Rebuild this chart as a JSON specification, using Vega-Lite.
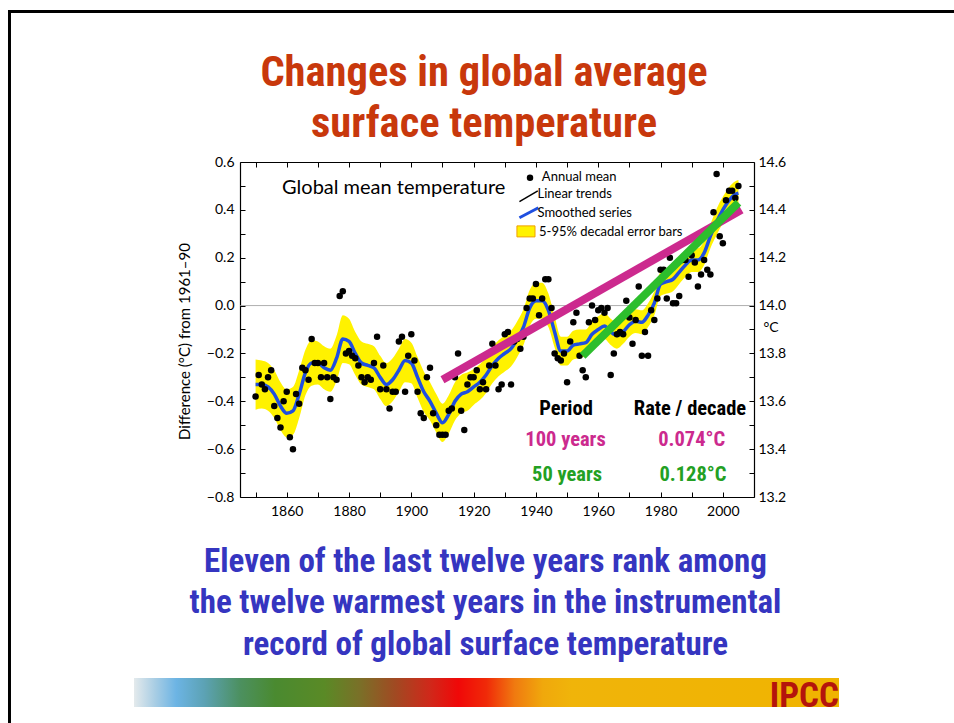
{
  "$schema": "https://vega.github.io/schema/vega-lite/v6.json",
  "background": "white",
  "padding": {"left": 7, "top": 9, "right": 0, "bottom": 0},
  "config": {
    "font": "Lato",
    "view": {"stroke": null},
    "axis": {
      "labelFont": "Lato", "labelFontSize": 14, "labelColor": "black",
      "titleFont": "Lato", "titleColor": "black", "titleFontWeight": "normal",
      "domainColor": "black", "domainWidth": 1.2, "tickColor": "black", "tickWidth": 1, "grid": false
    }
  },
  "datasets": {
    "annual": [
      {"year":1850,"anomaly":-0.38},{"year":1851,"anomaly":-0.29},{"year":1852,"anomaly":-0.33},{"year":1853,"anomaly":-0.35},{"year":1854,"anomaly":-0.30},
      {"year":1855,"anomaly":-0.27},{"year":1856,"anomaly":-0.42},{"year":1857,"anomaly":-0.47},{"year":1858,"anomaly":-0.51},{"year":1859,"anomaly":-0.40},
      {"year":1860,"anomaly":-0.36},{"year":1861,"anomaly":-0.55},{"year":1862,"anomaly":-0.60},{"year":1863,"anomaly":-0.37},{"year":1864,"anomaly":-0.41},
      {"year":1865,"anomaly":-0.26},{"year":1866,"anomaly":-0.27},{"year":1867,"anomaly":-0.31},{"year":1868,"anomaly":-0.14},{"year":1869,"anomaly":-0.24},
      {"year":1870,"anomaly":-0.24},{"year":1871,"anomaly":-0.30},{"year":1872,"anomaly":-0.24},{"year":1873,"anomaly":-0.30},{"year":1874,"anomaly":-0.39},
      {"year":1875,"anomaly":-0.30},{"year":1876,"anomaly":-0.31},{"year":1877,"anomaly":0.04},{"year":1878,"anomaly":0.06},{"year":1879,"anomaly":-0.20},
      {"year":1880,"anomaly":-0.19},{"year":1881,"anomaly":-0.21},{"year":1882,"anomaly":-0.22},{"year":1883,"anomaly":-0.25},{"year":1884,"anomaly":-0.30},
      {"year":1885,"anomaly":-0.32},{"year":1886,"anomaly":-0.30},{"year":1887,"anomaly":-0.31},{"year":1888,"anomaly":-0.24},{"year":1889,"anomaly":-0.13},
      {"year":1890,"anomaly":-0.35},{"year":1891,"anomaly":-0.25},{"year":1892,"anomaly":-0.35},{"year":1893,"anomaly":-0.43},{"year":1894,"anomaly":-0.36},
      {"year":1895,"anomaly":-0.36},{"year":1896,"anomaly":-0.15},{"year":1897,"anomaly":-0.13},{"year":1898,"anomaly":-0.36},{"year":1899,"anomaly":-0.21},
      {"year":1900,"anomaly":-0.12},{"year":1901,"anomaly":-0.23},{"year":1902,"anomaly":-0.36},{"year":1903,"anomaly":-0.45},{"year":1904,"anomaly":-0.47},
      {"year":1905,"anomaly":-0.30},{"year":1906,"anomaly":-0.26},{"year":1907,"anomaly":-0.45},{"year":1908,"anomaly":-0.50},{"year":1909,"anomaly":-0.54},
      {"year":1910,"anomaly":-0.54},{"year":1911,"anomaly":-0.54},{"year":1912,"anomaly":-0.44},{"year":1913,"anomaly":-0.43},{"year":1914,"anomaly":-0.30},
      {"year":1915,"anomaly":-0.20},{"year":1916,"anomaly":-0.44},{"year":1917,"anomaly":-0.52},{"year":1918,"anomaly":-0.33},{"year":1919,"anomaly":-0.30},
      {"year":1920,"anomaly":-0.30},{"year":1921,"anomaly":-0.27},{"year":1922,"anomaly":-0.35},{"year":1923,"anomaly":-0.32},{"year":1924,"anomaly":-0.35},
      {"year":1925,"anomaly":-0.25},{"year":1926,"anomaly":-0.16},{"year":1927,"anomaly":-0.25},{"year":1928,"anomaly":-0.35},{"year":1929,"anomaly":-0.33},
      {"year":1930,"anomaly":-0.12},{"year":1931,"anomaly":-0.11},{"year":1932,"anomaly":-0.33},{"year":1933,"anomaly":-0.15},{"year":1934,"anomaly":-0.14},
      {"year":1935,"anomaly":-0.18},{"year":1936,"anomaly":-0.13},{"year":1937,"anomaly":-0.01},{"year":1938,"anomaly":0.03},{"year":1939,"anomaly":0.03},
      {"year":1940,"anomaly":0.09},{"year":1941,"anomaly":-0.04},{"year":1942,"anomaly":0.03},{"year":1943,"anomaly":0.11},{"year":1944,"anomaly":0.11},
      {"year":1945,"anomaly":-0.01},{"year":1946,"anomaly":-0.20},{"year":1947,"anomaly":-0.22},{"year":1948,"anomaly":-0.23},{"year":1949,"anomaly":-0.20},
      {"year":1950,"anomaly":-0.32},{"year":1951,"anomaly":-0.15},{"year":1952,"anomaly":-0.07},{"year":1953,"anomaly":-0.03},{"year":1954,"anomaly":-0.21},
      {"year":1955,"anomaly":-0.27},{"year":1956,"anomaly":-0.30},{"year":1957,"anomaly":-0.07},{"year":1958,"anomaly":0.00},{"year":1959,"anomaly":-0.06},
      {"year":1960,"anomaly":-0.02},{"year":1961,"anomaly":-0.01},{"year":1962,"anomaly":-0.03},{"year":1963,"anomaly":-0.01},{"year":1964,"anomaly":-0.29},
      {"year":1965,"anomaly":-0.20},{"year":1966,"anomaly":-0.12},{"year":1967,"anomaly":-0.11},{"year":1968,"anomaly":-0.12},{"year":1969,"anomaly":0.02},
      {"year":1970,"anomaly":-0.05},{"year":1971,"anomaly":-0.16},{"year":1972,"anomaly":-0.06},{"year":1973,"anomaly":0.08},{"year":1974,"anomaly":-0.21},
      {"year":1975,"anomaly":-0.11},{"year":1976,"anomaly":-0.21},{"year":1977,"anomaly":-0.02},{"year":1978,"anomaly":-0.06},{"year":1979,"anomaly":0.03},
      {"year":1980,"anomaly":0.15},{"year":1981,"anomaly":0.15},{"year":1982,"anomaly":0.03},{"year":1983,"anomaly":0.20},{"year":1984,"anomaly":0.01},
      {"year":1985,"anomaly":0.01},{"year":1986,"anomaly":0.04},{"year":1987,"anomaly":0.19},{"year":1988,"anomaly":0.19},{"year":1989,"anomaly":0.12},
      {"year":1990,"anomaly":0.21},{"year":1991,"anomaly":0.18},{"year":1992,"anomaly":0.08},{"year":1993,"anomaly":0.13},{"year":1994,"anomaly":0.19},
      {"year":1995,"anomaly":0.15},{"year":1996,"anomaly":0.13},{"year":1997,"anomaly":0.39},{"year":1998,"anomaly":0.55},{"year":1999,"anomaly":0.29},
      {"year":2000,"anomaly":0.26},{"year":2001,"anomaly":0.44},{"year":2002,"anomaly":0.48},{"year":2003,"anomaly":0.48},{"year":2004,"anomaly":0.45},
      {"year":2005,"anomaly":0.50}
    ],
    "smooth": [
      {"year":1850,"smooth":-0.33,"lower":-0.435,"upper":-0.225},{"year":1852,"smooth":-0.33,"lower":-0.43,"upper":-0.23},
      {"year":1854,"smooth":-0.34,"lower":-0.44,"upper":-0.24},{"year":1856,"smooth":-0.37,"lower":-0.47,"upper":-0.27},
      {"year":1858,"smooth":-0.42,"lower":-0.52,"upper":-0.32},{"year":1860,"smooth":-0.45,"lower":-0.55,"upper":-0.35},
      {"year":1862,"smooth":-0.44,"lower":-0.54,"upper":-0.34},{"year":1864,"smooth":-0.37,"lower":-0.47,"upper":-0.27},
      {"year":1866,"smooth":-0.28,"lower":-0.375,"upper":-0.185},{"year":1868,"smooth":-0.24,"lower":-0.335,"upper":-0.145},
      {"year":1870,"smooth":-0.24,"lower":-0.33,"upper":-0.15},{"year":1872,"smooth":-0.26,"lower":-0.35,"upper":-0.17},
      {"year":1874,"smooth":-0.27,"lower":-0.36,"upper":-0.18},{"year":1876,"smooth":-0.22,"lower":-0.315,"upper":-0.125},
      {"year":1878,"smooth":-0.14,"lower":-0.24,"upper":-0.04},{"year":1880,"smooth":-0.15,"lower":-0.245,"upper":-0.055},
      {"year":1882,"smooth":-0.20,"lower":-0.29,"upper":-0.11},{"year":1884,"smooth":-0.24,"lower":-0.33,"upper":-0.15},
      {"year":1886,"smooth":-0.25,"lower":-0.34,"upper":-0.16},{"year":1888,"smooth":-0.26,"lower":-0.35,"upper":-0.17},
      {"year":1890,"smooth":-0.30,"lower":-0.39,"upper":-0.21},{"year":1892,"smooth":-0.33,"lower":-0.42,"upper":-0.24},
      {"year":1894,"smooth":-0.31,"lower":-0.40,"upper":-0.22},{"year":1896,"smooth":-0.27,"lower":-0.36,"upper":-0.18},
      {"year":1898,"smooth":-0.23,"lower":-0.32,"upper":-0.14},{"year":1900,"smooth":-0.24,"lower":-0.325,"upper":-0.155},
      {"year":1902,"smooth":-0.30,"lower":-0.385,"upper":-0.215},{"year":1904,"smooth":-0.36,"lower":-0.445,"upper":-0.275},
      {"year":1906,"smooth":-0.40,"lower":-0.48,"upper":-0.32},{"year":1908,"smooth":-0.45,"lower":-0.53,"upper":-0.37},
      {"year":1910,"smooth":-0.49,"lower":-0.57,"upper":-0.41},{"year":1912,"smooth":-0.455,"lower":-0.535,"upper":-0.375},
      {"year":1914,"smooth":-0.40,"lower":-0.48,"upper":-0.32},{"year":1916,"smooth":-0.37,"lower":-0.45,"upper":-0.29},
      {"year":1918,"smooth":-0.36,"lower":-0.44,"upper":-0.28},{"year":1920,"smooth":-0.34,"lower":-0.415,"upper":-0.265},
      {"year":1922,"smooth":-0.32,"lower":-0.395,"upper":-0.245},{"year":1924,"smooth":-0.29,"lower":-0.365,"upper":-0.215},
      {"year":1926,"smooth":-0.25,"lower":-0.325,"upper":-0.175},{"year":1928,"smooth":-0.22,"lower":-0.295,"upper":-0.145},
      {"year":1930,"smooth":-0.20,"lower":-0.275,"upper":-0.125},{"year":1932,"smooth":-0.18,"lower":-0.255,"upper":-0.105},
      {"year":1934,"smooth":-0.14,"lower":-0.215,"upper":-0.065},{"year":1936,"smooth":-0.09,"lower":-0.165,"upper":-0.015},
      {"year":1938,"smooth":-0.01,"lower":-0.085,"upper":0.065},{"year":1940,"smooth":0.02,"lower":-0.055,"upper":0.095},
      {"year":1942,"smooth":0.02,"lower":-0.055,"upper":0.095},{"year":1944,"smooth":-0.02,"lower":-0.09,"upper":0.05},
      {"year":1946,"smooth":-0.11,"lower":-0.175,"upper":-0.045},{"year":1948,"smooth":-0.19,"lower":-0.25,"upper":-0.13},
      {"year":1950,"smooth":-0.19,"lower":-0.25,"upper":-0.13},{"year":1952,"smooth":-0.165,"lower":-0.225,"upper":-0.105},
      {"year":1954,"smooth":-0.16,"lower":-0.22,"upper":-0.10},{"year":1956,"smooth":-0.155,"lower":-0.21,"upper":-0.10},
      {"year":1958,"smooth":-0.12,"lower":-0.175,"upper":-0.065},{"year":1960,"smooth":-0.10,"lower":-0.155,"upper":-0.045},
      {"year":1962,"smooth":-0.085,"lower":-0.14,"upper":-0.03},{"year":1964,"smooth":-0.11,"lower":-0.165,"upper":-0.055},
      {"year":1966,"smooth":-0.125,"lower":-0.18,"upper":-0.07},{"year":1968,"smooth":-0.11,"lower":-0.16,"upper":-0.06},
      {"year":1970,"smooth":-0.08,"lower":-0.13,"upper":-0.03},{"year":1972,"smooth":-0.065,"lower":-0.115,"upper":-0.015},
      {"year":1974,"smooth":-0.07,"lower":-0.12,"upper":-0.02},{"year":1976,"smooth":-0.04,"lower":-0.09,"upper":0.01},
      {"year":1978,"smooth":0.01,"lower":-0.04,"upper":0.06},{"year":1980,"smooth":0.09,"lower":0.04,"upper":0.14},
      {"year":1982,"smooth":0.10,"lower":0.05,"upper":0.15},{"year":1984,"smooth":0.11,"lower":0.06,"upper":0.16},
      {"year":1986,"smooth":0.14,"lower":0.09,"upper":0.19},{"year":1988,"smooth":0.17,"lower":0.12,"upper":0.22},
      {"year":1990,"smooth":0.19,"lower":0.14,"upper":0.24},{"year":1992,"smooth":0.19,"lower":0.14,"upper":0.24},
      {"year":1994,"smooth":0.22,"lower":0.17,"upper":0.27},{"year":1996,"smooth":0.29,"lower":0.24,"upper":0.34},
      {"year":1998,"smooth":0.35,"lower":0.295,"upper":0.405},{"year":2000,"smooth":0.40,"lower":0.345,"upper":0.455},
      {"year":2002,"smooth":0.44,"lower":0.385,"upper":0.495},{"year":2004,"smooth":0.465,"lower":0.41,"upper":0.52},
      {"year":2005,"smooth":0.47,"lower":0.415,"upper":0.525}
    ],
    "trends": [
      {"period":"100 years","year":1910,"anomaly":-0.31},
      {"period":"100 years","year":2006,"anomaly":0.40},
      {"period":"50 years","year":1955,"anomaly":-0.21},
      {"period":"50 years","year":2005,"anomaly":0.43}
    ]
  },
  "vconcat": [
    {
      "width": 514,
      "height": 335,
      "title": {
        "text": ["Changes in global average", "surface temperature"],
        "font": "Roboto Condensed",
        "fontSize": 42.5, "fontWeight": "bold", "color": "#C8380C", "lineHeight": 51,
        "anchor": "middle", "frame": "group", "dx": -13, "offset": -24, "baseline": "alphabetic"
      },
      "layer": [
        {
          "data": {"values": [{}]},
          "mark": {"type": "rule", "color": "#9a9a9a", "strokeWidth": 0.8},
          "encoding": {"y": {"datum": 0, "type": "quantitative", "axis": null}}
        },
        {
          "data": {"name": "smooth"},
          "mark": {"type": "area", "color": "#FFF200", "interpolate": "monotone"},
          "encoding": {
            "x": {
              "field": "year", "type": "quantitative",
              "scale": {"domain": [1845, 2010], "nice": false, "zero": false},
              "axis": {
                "orient": "bottom",
                "values": [1850,1860,1870,1880,1890,1900,1910,1920,1930,1940,1950,1960,1970,1980,1990,2000],
                "format": "d",
                "labelExpr": "datum.value % 20 === 0 ? datum.label : ''",
                "tickSize": -5,
                "labelPadding": 12,
                "title": ["Eleven of the last twelve years rank among", "the twelve warmest years in the instrumental", "record of global surface temperature"],
                "titleFont": "Roboto Condensed",
                "titleFontSize": 33, "titleFontWeight": "bold", "titleColor": "#3535C0",
                "titleLineHeight": 41.5, "titlePadding": 27, "titleX": 245
              }
            },
            "y": {
              "field": "lower", "type": "quantitative",
              "scale": {"domain": [-0.8, 0.6], "nice": false, "zero": false},
              "axis": {
                "orient": "left",
                "values": [-0.8,-0.7,-0.6,-0.5,-0.4,-0.3,-0.2,-0.1,0,0.1,0.2,0.3,0.4,0.5,0.6],
                "labelExpr": "abs(round(datum.value * 10)) % 2 === 0 ? format(datum.value, '.1f') : ''",
                "tickSize": -5,
                "labelPadding": 11,
                "title": "Difference (°C) from 1961–90",
                "titleFontSize": 15, "titlePadding": 14, "titleY": 179
              }
            },
            "y2": {"field": "upper"}
          }
        },
        {
          "data": {"name": "smooth"},
          "mark": {"type": "line", "color": "#1F4FE0", "strokeWidth": 3.5, "interpolate": "monotone"},
          "encoding": {
            "x": {"field": "year", "type": "quantitative", "axis": null},
            "y": {"field": "smooth", "type": "quantitative", "axis": null}
          }
        },
        {
          "data": {"name": "annual"},
          "mark": {"type": "circle", "size": 42, "color": "black", "opacity": 1},
          "encoding": {
            "x": {
              "field": "year", "type": "quantitative",
              "axis": {
                "orient": "top",
                "values": [1850,1860,1870,1880,1890,1900,1910,1920,1930,1940,1950,1960,1970,1980,1990,2000],
                "labels": false, "title": null, "tickSize": -5
              }
            },
            "y": {
              "field": "anomaly", "type": "quantitative",
              "axis": {
                "orient": "right",
                "values": [-0.8,-0.7,-0.6,-0.5,-0.4,-0.3,-0.2,-0.1,0,0.1,0.2,0.3,0.4,0.5,0.6],
                "labelExpr": "abs(round(datum.value * 10)) % 2 === 0 ? format(datum.value + 14, '.1f') : ''",
                "tickSize": -5,
                "labelPadding": 9,
                "title": "°C", "titleAngle": 0, "titleAlign": "left", "titleBaseline": "middle",
                "titleX": 9, "titleY": 165, "titleFontSize": 14
              }
            }
          }
        },
        {
          "data": {"name": "trends"},
          "mark": {"type": "line", "strokeWidth": 8, "strokeCap": "butt"},
          "encoding": {
            "x": {"field": "year", "type": "quantitative", "axis": null},
            "y": {"field": "anomaly", "type": "quantitative", "axis": null},
            "color": {"field": "period", "type": "nominal", "scale": {"domain": ["100 years", "50 years"], "range": ["#CC2A8E", "#2DBE2D"]}, "legend": null}
          }
        },
        {
          "data": {"values": [{}]},
          "mark": {"type": "text", "text": "Global mean temperature", "align": "left", "baseline": "middle", "fontSize": 20, "color": "black"},
          "encoding": {"x": {"datum": 1858.5, "type": "quantitative", "axis": null}, "y": {"datum": 0.49, "type": "quantitative", "axis": null}}
        },
        {
          "data": {"values": [{}]},
          "mark": {"type": "circle", "size": 42, "color": "black", "opacity": 1},
          "encoding": {"x": {"datum": 1938.1, "type": "quantitative", "axis": null}, "y": {"datum": 0.534, "type": "quantitative", "axis": null}}
        },
        {
          "data": {"values": [{}]},
          "mark": {"type": "text", "text": "Annual mean", "align": "left", "baseline": "middle", "fontSize": 13, "color": "black"},
          "encoding": {"x": {"datum": 1941.9, "type": "quantitative", "axis": null}, "y": {"datum": 0.537, "type": "quantitative", "axis": null}}
        },
        {
          "data": {"values": [{}]},
          "mark": {"type": "rule", "color": "black", "strokeWidth": 1.5},
          "encoding": {
            "x": {"datum": 1934.7, "type": "quantitative", "axis": null}, "x2": {"datum": 1940.6},
            "y": {"datum": 0.434, "type": "quantitative", "axis": null}, "y2": {"datum": 0.479}
          }
        },
        {
          "data": {"values": [{}]},
          "mark": {"type": "text", "text": "Linear trends", "align": "left", "baseline": "middle", "fontSize": 13, "color": "black"},
          "encoding": {"x": {"datum": 1940.5, "type": "quantitative", "axis": null}, "y": {"datum": 0.465, "type": "quantitative", "axis": null}}
        },
        {
          "data": {"values": [{}]},
          "mark": {"type": "rule", "color": "#1F4FE0", "strokeWidth": 3},
          "encoding": {
            "x": {"datum": 1934.7, "type": "quantitative", "axis": null}, "x2": {"datum": 1940.8},
            "y": {"datum": 0.367, "type": "quantitative", "axis": null}, "y2": {"datum": 0.409}
          }
        },
        {
          "data": {"values": [{}]},
          "mark": {"type": "text", "text": "Smoothed series", "align": "left", "baseline": "middle", "fontSize": 13, "color": "black"},
          "encoding": {"x": {"datum": 1940.5, "type": "quantitative", "axis": null}, "y": {"datum": 0.388, "type": "quantitative", "axis": null}}
        },
        {
          "data": {"values": [{}]},
          "mark": {"type": "rect", "fill": "#FFF200", "stroke": "#F0A000", "strokeWidth": 1},
          "encoding": {
            "x": {"datum": 1933.9, "type": "quantitative", "axis": null}, "x2": {"datum": 1939.7},
            "y": {"datum": 0.287, "type": "quantitative", "axis": null}, "y2": {"datum": 0.333}
          }
        },
        {
          "data": {"values": [{}]},
          "mark": {"type": "text", "text": "5-95% decadal error bars", "align": "left", "baseline": "middle", "fontSize": 13, "color": "black"},
          "encoding": {"x": {"datum": 1941.0, "type": "quantitative", "axis": null}, "y": {"datum": 0.309, "type": "quantitative", "axis": null}}
        },
        {
          "data": {"values": [{}]},
          "mark": {"type": "text", "text": "Period", "align": "center", "baseline": "middle", "font": "Roboto Condensed", "fontWeight": "bold", "fontSize": 20.5, "color": "black"},
          "encoding": {"x": {"datum": 1949.65, "type": "quantitative", "axis": null}, "y": {"datum": -0.432, "type": "quantitative", "axis": null}}
        },
        {
          "data": {"values": [{}]},
          "mark": {"type": "text", "text": "Rate / decade", "align": "center", "baseline": "middle", "font": "Roboto Condensed", "fontWeight": "bold", "fontSize": 20.5, "color": "black"},
          "encoding": {"x": {"datum": 1989.45, "type": "quantitative", "axis": null}, "y": {"datum": -0.432, "type": "quantitative", "axis": null}}
        },
        {
          "data": {"values": [{}]},
          "mark": {"type": "text", "text": "100 years", "align": "center", "baseline": "middle", "font": "Roboto Condensed", "fontWeight": "bold", "fontSize": 20.5, "color": "#CC2A8E"},
          "encoding": {"x": {"datum": 1949.5, "type": "quantitative", "axis": null}, "y": {"datum": -0.562, "type": "quantitative", "axis": null}}
        },
        {
          "data": {"values": [{}]},
          "mark": {"type": "text", "text": "0.074°C", "align": "center", "baseline": "middle", "font": "Roboto Condensed", "fontWeight": "bold", "fontSize": 20.5, "color": "#CC2A8E"},
          "encoding": {"x": {"datum": 1990.0, "type": "quantitative", "axis": null}, "y": {"datum": -0.562, "type": "quantitative", "axis": null}}
        },
        {
          "data": {"values": [{}]},
          "mark": {"type": "text", "text": "50 years", "align": "center", "baseline": "middle", "font": "Roboto Condensed", "fontWeight": "bold", "fontSize": 20.5, "color": "#23A023"},
          "encoding": {"x": {"datum": 1950.0, "type": "quantitative", "axis": null}, "y": {"datum": -0.708, "type": "quantitative", "axis": null}}
        },
        {
          "data": {"values": [{}]},
          "mark": {"type": "text", "text": "0.128°C", "align": "center", "baseline": "middle", "font": "Roboto Condensed", "fontWeight": "bold", "fontSize": 20.5, "color": "#23A023"},
          "encoding": {"x": {"datum": 1990.4, "type": "quantitative", "axis": null}, "y": {"datum": -0.708, "type": "quantitative", "axis": null}}
        }
      ],
      "resolve": {"axis": {"x": "independent", "y": "independent"}}
    },
    {
      "width": 726,
      "height": 29,
      "layer": [
        {
          "data": {"values": [{}]},
          "mark": {
            "type": "rect",
            "color": {
              "gradient": "linear", "x1": 0, "y1": 0, "x2": 1, "y2": 0,
              "stops": [
                {"offset": 0.0, "color": "#E4EAEC"},
                {"offset": 0.03, "color": "#A8CDE4"},
                {"offset": 0.06, "color": "#6CB4E4"},
                {"offset": 0.10, "color": "#5CA2B4"},
                {"offset": 0.15, "color": "#4C9060"},
                {"offset": 0.20, "color": "#4A8A30"},
                {"offset": 0.27, "color": "#5A8A26"},
                {"offset": 0.32, "color": "#7A7028"},
                {"offset": 0.37, "color": "#A04A22"},
                {"offset": 0.42, "color": "#D0281A"},
                {"offset": 0.46, "color": "#F00808"},
                {"offset": 0.50, "color": "#F02A08"},
                {"offset": 0.54, "color": "#F07A10"},
                {"offset": 0.58, "color": "#F0A80C"},
                {"offset": 0.62, "color": "#F0B40A"},
                {"offset": 1.0, "color": "#F0B400"}
              ]
            }
          },
          "encoding": {
            "x": {"datum": 0, "type": "quantitative", "scale": {"domain": [0, 1.029787], "nice": false, "zero": false}, "axis": null},
            "x2": {"datum": 1},
            "y": {"datum": 0, "type": "quantitative", "scale": {"domain": [0, 1], "nice": false, "zero": false}, "axis": null},
            "y2": {"datum": 1}
          }
        },
        {
          "data": {"values": [{}]},
          "mark": {"type": "text", "text": "IPCC", "align": "right", "baseline": "alphabetic", "font": "Roboto Condensed", "fontWeight": "bold", "fontSize": 35, "color": "#B4140C"},
          "encoding": {
            "x": {"datum": 1, "type": "quantitative", "axis": null},
            "y": {"datum": 0, "type": "quantitative", "axis": null}
          }
        },
        {
          "data": {"values": [{}]},
          "mark": {"type": "rule", "color": "black", "strokeWidth": 3, "strokeCap": "square"},
          "encoding": {
            "x": {"datum": -0.176596, "type": "quantitative", "axis": null}, "x2": {"datum": 1.161702},
            "y": {"datum": 23.98276, "type": "quantitative", "axis": null}
          }
        },
        {
          "data": {"values": [{}]},
          "mark": {"type": "rule", "color": "black", "strokeWidth": 3, "strokeCap": "square"},
          "encoding": {
            "x": {"datum": -0.176596, "type": "quantitative", "axis": null},
            "y": {"datum": 23.98276, "type": "quantitative", "axis": null}, "y2": {"datum": -0.51724}
          }
        }
      ]
    }
  ],
  "spacing": 181,
  "bounds": "flush",
  "center": true
}
